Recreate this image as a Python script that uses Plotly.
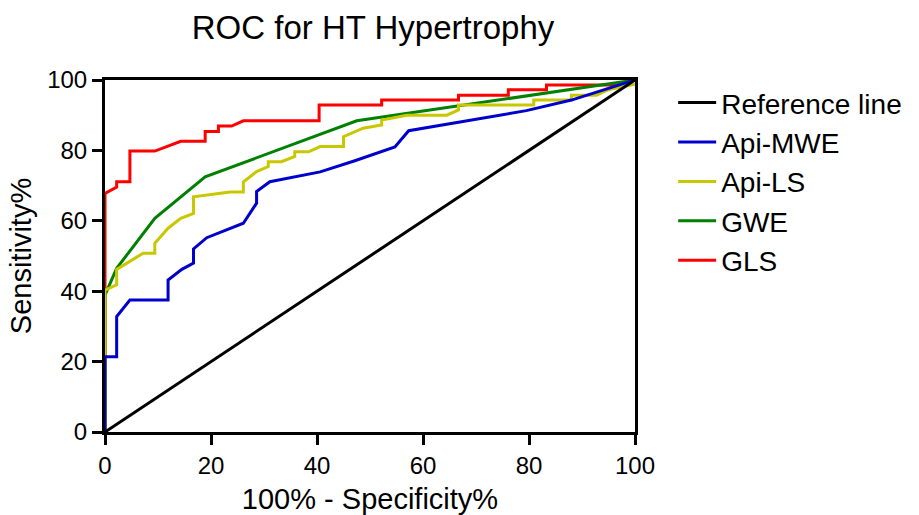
import plotly.graph_objects as go

ref_x = [0, 100]
ref_y = [0, 100]

mwe_x = [0, 0, 2.2, 2.2, 4.7, 11.9, 11.9, 14.5, 16.7, 16.7, 19.2, 26.1, 28.6, 28.6, 31.1, 35.8, 40.6, 47.0, 54.7, 57.3, 79.5, 88.0, 100]
mwe_y = [0, 21.4, 21.4, 32.8, 37.5, 37.5, 43.2, 46.2, 48.0, 52.0, 55.2, 59.3, 65.0, 68.3, 71.1, 72.5, 73.9, 77.0, 81.0, 85.6, 91.3, 94.3, 100]

ls_x = [0, 0, 0, 2.2, 2.2, 7.2, 9.4, 9.4, 11.9, 14.3, 16.7, 16.7, 23.6, 26.1, 26.1, 28.6, 30.8, 30.8, 33.3, 35.8, 35.8, 38.4, 40.6, 45.0, 45.0, 48.7, 52.2, 52.2, 56.9, 64.5, 66.7, 66.7, 80.9, 80.9, 88.0, 88.0, 92.7, 94.9, 100]
ls_y = [0, 22.3, 40.3, 41.8, 46.2, 50.8, 50.8, 53.6, 57.9, 60.7, 62.1, 66.8, 68.2, 68.2, 71.0, 74.0, 75.4, 76.8, 76.8, 78.3, 79.6, 79.6, 81.1, 81.1, 83.9, 86.3, 87.2, 88.6, 90.0, 90.0, 91.5, 92.9, 92.9, 94.3, 94.3, 95.7, 95.7, 97.2, 98.8]

gwe_x = [0, 0, 2.2, 9.4, 18.9, 47.5, 100]
gwe_y = [0, 38.9, 46.5, 60.7, 72.5, 88.4, 100]

gls_x = [0, 0, 0, 2.2, 2.2, 4.7, 4.7, 9.4, 14.3, 18.9, 18.9, 21.4, 21.4, 23.9, 26.1, 40.4, 40.4, 52.2, 52.2, 66.7, 66.7, 76.1, 76.1, 83.3, 83.3, 96.0, 100]
gls_y = [0, 40.3, 67.8, 69.6, 71.1, 71.1, 79.8, 79.8, 82.6, 82.6, 85.4, 85.4, 86.9, 86.9, 88.4, 88.4, 92.9, 92.9, 94.3, 94.3, 95.7, 95.7, 97.2, 97.2, 98.6, 98.6, 100]

tick_vals = [0, 20, 40, 60, 80, 100]

FONT = "Liberation Sans, Arial, sans-serif"

fig = go.Figure()
# drawn bottom-to-top; legend reversed to read Reference line first
fig.add_trace(go.Scatter(x=gls_x, y=gls_y, mode="lines", name="GLS",
                         line=dict(color="#FF0000", width=3), cliponaxis=False))
fig.add_trace(go.Scatter(x=gwe_x, y=gwe_y, mode="lines", name="GWE",
                         line=dict(color="#008000", width=3), cliponaxis=False))
fig.add_trace(go.Scatter(x=ls_x, y=ls_y, mode="lines", name="Api-LS",
                         line=dict(color="#C8C800", width=3), cliponaxis=False))
fig.add_trace(go.Scatter(x=mwe_x, y=mwe_y, mode="lines", name="Api-MWE",
                         line=dict(color="#0000CC", width=3), cliponaxis=False))
fig.add_trace(go.Scatter(x=ref_x, y=ref_y, mode="lines", name="Reference line",
                         line=dict(color="#000000", width=3), cliponaxis=False))

axis_common = dict(
    range=[0, 100], tickvals=tick_vals, showgrid=False, zeroline=False,
    showline=True, linewidth=3, linecolor="black", mirror=True,
    ticks="outside", ticklen=10, tickwidth=3, tickcolor="black",
    tickfont=dict(family=FONT, size=24, color="black"),
)

fig.update_layout(
    width=919, height=515,
    margin=dict(l=105, r=284, t=80, b=83, autoexpand=False),
    paper_bgcolor="white", plot_bgcolor="white",
    title=dict(text="ROC for HT Hypertrophy", x=373/919, xanchor="center",
               y=1 - 27/515, yanchor="middle", xref="container", yref="container",
               font=dict(family=FONT, size=33, color="black")),
    xaxis=dict(**axis_common,
               title=dict(text="100% - Specificity%", standoff=12,
                          font=dict(family=FONT, size=29, color="black"))),
    yaxis=dict(**axis_common,
               title=dict(text="Sensitivity%", standoff=8,
                          font=dict(family=FONT, size=29, color="black"))),
    legend=dict(traceorder="reversed", x=1.072, xanchor="left", y=1.006, yanchor="top",
                font=dict(family=FONT, size=28, color="black"),
                bgcolor="rgba(0,0,0,0)", itemwidth=38),
    showlegend=True,
)

fig.write_html("out.html", config={"displayModeBar": False},
               post_script="document.body.style.margin='0';")
